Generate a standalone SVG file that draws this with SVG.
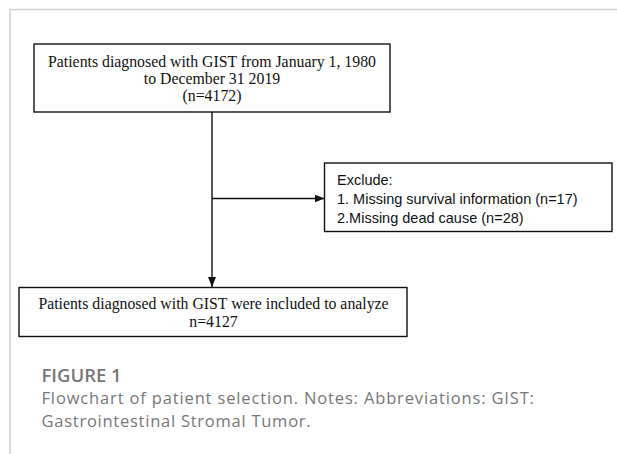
<svg xmlns="http://www.w3.org/2000/svg" width="617" height="454" viewBox="0 0 617 454">
<style>
.box{fill:#fff;stroke:#111;stroke-width:1.4}
.serif{font-family:"Liberation Serif","Times New Roman",serif;font-size:15.8px;fill:#111;text-anchor:middle}
.sans{font-family:"Liberation Sans",Arial,sans-serif;font-size:14.5px;fill:#111}
.conn{stroke:#111;stroke-width:1.4;fill:none}
.cap{font-family:"Open Sans","Noto Sans",sans-serif;fill:#777}
.frame{stroke:#d0d0d0;stroke-width:1.5;fill:none}
</style>
<defs>
<marker id="arr" viewBox="0 0 10 8" refX="10" refY="4" markerWidth="10" markerHeight="8" markerUnits="userSpaceOnUse" orient="auto">
<path d="M0,0 L10,4 L0,8 Z" fill="#111"/>
</marker>
</defs>
<rect width="617" height="454" fill="#fff"/>
<path class="frame" d="M10,454 V9.5 H617"/>
<g id="connectors">
<line class="conn" x1="212" y1="112" x2="212" y2="287" marker-end="url(#arr)"/>
<line class="conn" x1="212" y1="198.5" x2="324.5" y2="198.5" marker-end="url(#arr)"/>
</g>
<g id="node-start">
<rect class="box" x="34" y="44" width="356" height="68"/>
<text class="serif" x="212" y="66.5">Patients diagnosed with GIST from January 1, 1980</text>
<text class="serif" x="212" y="83.5">to December 31 2019</text>
<text class="serif" x="212" y="100.5">(n=4172)</text>
</g>
<g id="node-exclude">
<rect class="box" x="324.5" y="163" width="287.5" height="68.5"/>
<text class="sans" x="337" y="185">Exclude:</text>
<text class="sans" x="337" y="204.3">1. Missing survival information (n=17)</text>
<text class="sans" x="337" y="223.3">2.Missing dead cause (n=28)</text>
</g>
<g id="node-included">
<rect class="box" x="19" y="287.5" width="388" height="49"/>
<text class="serif" x="213.5" y="308.5">Patients diagnosed with GIST were included to analyze</text>
<text class="serif" x="213.5" y="326.5">n=4127</text>
</g>
<g id="caption">
<text class="cap" x="41.5" y="381.5" font-size="18.5" font-weight="600" fill="#666">FIGURE 1</text>
<text class="cap" x="41.5" y="404" font-size="16.5" letter-spacing="0.85">Flowchart of patient selection. Notes: Abbreviations: GIST:</text>
<text class="cap" x="41.5" y="426.5" font-size="16.5" letter-spacing="0.75">Gastrointestinal Stromal Tumor.</text>
</g>
</svg>
